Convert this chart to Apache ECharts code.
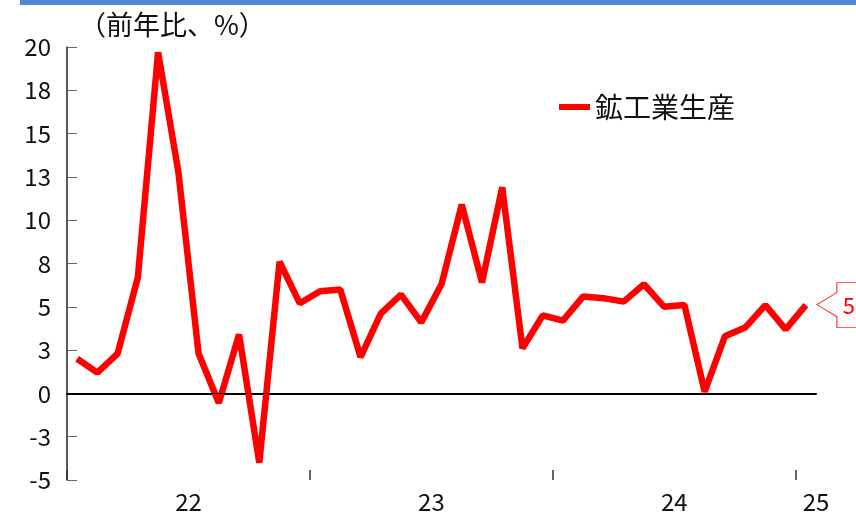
<!DOCTYPE html>
<html>
<head>
<meta charset="utf-8">
<script src="https://cdn.jsdelivr.net/npm/echarts@6/dist/echarts.min.js"></script>
<style>
html,body{margin:0;padding:0;background:#fff;}
#chart{width:856px;height:516px;}
</style>
</head>
<body>
<div id="chart"></div>
<script>
const months = ['22/1','22/2','22/3','22/4','22/5','22/6','22/7','22/8','22/9','22/10','22/11','22/12',
  '23/1','23/2','23/3','23/4','23/5','23/6','23/7','23/8','23/9','23/10','23/11','23/12',
  '24/1','24/2','24/3','24/4','24/5','24/6','24/7','24/8','24/9','24/10','24/11','24/12',
  '25/1'];
const tickSlots = ['22/1','22/2','22/3','22/4','22/5','22/6','22/7','22/8','22/9','22/10','22/11','22/12',
  '23/1','23/2','23/3','23/4','23/5','23/6','23/7','23/8','23/9','23/10','23/11','23/12',
  '24/1','24/2','24/3','24/4','24/5','24/6','24/7','24/8','24/9','24/10','24/11','24/12',
  '25/1','25/2'];
const yearLabelSlots = [6, 18, 30, 37];
const yearLabels = ['22', '23', '24', '25'];
const seriesName = '鉱工業生産';
const production = [2.0, 1.2, 2.3, 6.7, 19.7, 12.8, 2.3, -0.55, 3.4, -4.0, 7.6, 5.2,
  5.9, 6.0, 2.1, 4.6, 5.7, 4.1, 6.3, 10.9, 6.4, 11.9, 2.6, 4.5,
  4.2, 5.6, 5.5, 5.3, 6.3, 5.0, 5.1, 0.1, 3.3, 3.8, 5.1, 3.7,
  5.1];
const yMin = -5, yMax = 20, yStep = 2.5;
const unitTitle = '（前年比、%）';

const FONT = '"Noto Sans CJK JP", "Noto Sans", sans-serif';
const chart = echarts.init(document.getElementById('chart'));
const lastIdx = production.length - 1;
chart.setOption({
  animation: false,
  backgroundColor: '#fff',
  textStyle: { fontFamily: FONT },
  graphic: [
    { type: 'rect', left: 20, top: 0, shape: { width: 836, height: 5 }, style: { fill: '#4f87d2' } },
    { type: 'text', left: 79, top: 11, style: { text: unitTitle, font: '27px ' + FONT, fill: '#111' } }
  ],
  legend: {
    left: 554, top: 88,
    itemWidth: 31, itemHeight: 6, icon: 'rect',
    textStyle: { fontSize: 28, color: '#111', fontFamily: FONT },
    itemGap: 5,
    data: [{ name: seriesName, itemStyle: { color: '#ff0000' } }]
  },
  grid: { left: 67, right: 40, top: 47, bottom: 36 },
  xAxis: [{
    type: 'category', data: months, boundaryGap: true,
    axisLine: { lineStyle: { color: '#000', width: 2 } },
    axisTick: { show: false }, axisLabel: { show: false }, splitLine: { show: false }
  }, {
    type: 'category', data: tickSlots, boundaryGap: false, position: 'bottom',
    axisLine: { show: false },
    axisTick: { show: true, inside: true, length: 10, lineStyle: { color: '#333', width: 1.5 },
      interval: function (i) { return i % 12 === 0; } },
    axisLabel: {
      show: true, interval: 0, margin: 10, fontSize: 24, color: '#111', fontFamily: FONT,
      formatter: function (v, i) { const k = yearLabelSlots.indexOf(i); return k >= 0 ? yearLabels[k] : ''; }
    },
    splitLine: { show: false }
  }],
  yAxis: {
    type: 'value', min: yMin, max: yMax, interval: yStep,
    axisLine: { show: true, lineStyle: { color: '#222', width: 1.5 } },
    axisTick: { show: true, inside: true, length: 10, lineStyle: { color: '#666' } },
    axisLabel: { fontSize: 24, color: '#111', margin: 16, fontFamily: FONT,
      formatter: function (v) { return v.toFixed(0); } },
    splitLine: { show: false }
  },
  series: [{
    name: seriesName, type: 'line', data: production,
    showSymbol: false, symbol: 'none',
    lineStyle: { color: '#ff0000', width: 6.5, join: 'bevel' },
    itemStyle: { color: '#ff0000' },
    markLine: {
      silent: true, symbol: 'none', label: { show: false },
      lineStyle: { color: '#000', width: 1, type: 'solid' },
      data: [{ yAxis: 0 }]
    },
    markPoint: {
      symbol: 'path://M0,22 L20,10 L20,0 L60,0 L60,45 L20,45 L20,34 Z',
      symbolSize: [60, 45], symbolKeepAspect: false, symbolOffset: [41, 0],
      itemStyle: { color: '#fff', borderColor: '#ff3030', borderWidth: 1 },
      label: { show: true, position: 'inside', offset: [2, 1], color: '#ff0000', fontSize: 22, fontFamily: FONT,
        formatter: function (p) { return Number(p.value).toFixed(0); } },
      data: [{ coord: [lastIdx, production[lastIdx]], value: production[lastIdx] }]
    }
  }]
});
</script>
</body>
</html>
